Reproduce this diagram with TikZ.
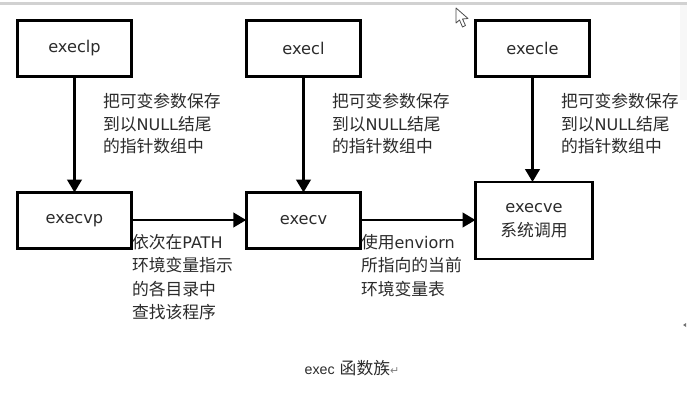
\documentclass[tikz,border=0pt]{standalone}
\usepackage{fontspec}
\setmainfont{DejaVu Sans}
\newfontfamily\cjkfont{Noto Sans CJK SC}
\newfontfamily\capfont{Liberation Sans}
\newcommand{\cj}[1]{{\fontsize{16.8}{22.6}\selectfont\cjkfont #1}}
\usetikzlibrary{arrows.meta}
\definecolor{ink}{HTML}{2B2B2B}
\tikzset{
  fnbox/.style={draw=black,line width=2.9pt,fill=white,minimum width=114.5pt,minimum height=56pt,inner sep=0pt,outer sep=0pt,text=ink,font=\fontsize{16.2}{20}\selectfont,align=center},
  flow/.style={draw=black,line width=2.8pt,-{Triangle[width=14.5pt,length=13pt]},shorten >=0pt},
  note/.style={anchor=north west,inner sep=0pt,outer sep=0pt,text=ink,align=left,font=\fontsize{16}{22.6}\selectfont},
}
\begin{document}
\begin{tikzpicture}[x=1pt,y=-1pt]
\useasboundingbox (0,0) rectangle (687,402);
\fill[white] (0,0) rectangle (687,402);
\fill[black!18] (0,2) rectangle (687,4.5);
\fill[black!3] (680,5) rectangle (687,100);

\node[fnbox] (execlp) at (74.5,48.5) {execlp};
\node[fnbox] (execl) at (303.5,48.5) {execl};
\node[fnbox] (execle) at (532.5,48.5) {execle};
\node[fnbox] (execvp) at (74.5,220.5) {execvp};
\node[fnbox] (execv) at (303.5,220.5) {execv};
\node[fnbox,minimum width=117pt,minimum height=77pt] (execve) at (534,220.5) {execve\\[3.5pt]\cj{系统调用}};

\draw[flow] (execlp.south) -- (execvp.north);
\draw[flow] (execl.south) -- (execv.north);
\draw[flow] (execle.south) -- (execle.south |- execve.north);
\draw[flow] (execvp.east |- 0,220) -- (execv.west |- 0,220);
\draw[flow] (execv.east |- 0,220) -- (execve.west |- 0,220);

\node[note] (n1) at (103,93.5) {\cj{把可变参数保存}\\\cj{到以}NULL\cj{结尾}\\\cj{的指针数组中}};
\node[note] (n2) at (332,93.5) {\cj{把可变参数保存}\\\cj{到以}NULL\cj{结尾}\\\cj{的指针数组中}};
\node[note] (n3) at (561,93.5) {\cj{把可变参数保存}\\\cj{到以}NULL\cj{结尾}\\\cj{的指针数组中}};
\node[note] (n4) at (132,234) {\cj{依次在}PATH\\[1pt]\cj{环境变量指示}\\[1pt]\cj{的各目录中}\\[1pt]\cj{查找该程序}};
\node[note] (n5) at (361,234) {\cj{使用}enviorn\\[1pt]\cj{所指向的当前}\\[1pt]\cj{环境变量表}};

\node[anchor=base west,inner sep=0pt,text=ink] (cap) at (304.5,374) {\fontsize{14.2}{16}\selectfont\capfont exec\hspace{5pt}\cj{函数族}\textcolor{black!50}{\fontsize{11}{12}\selectfont\rmfamily ↵}};

% mouse pointer
\draw[fill=white,draw=black!70,line width=.8pt,line join=round]
  (456,8) -- (456,23) -- (459.5,20) -- (462.5,27) -- (465.5,25.5) -- (462.5,19) -- (468,18.5) -- cycle;
% stray mark at the right edge
\fill[black!55] (683,325) -- (686,323) -- (686,327) -- cycle;
\end{tikzpicture}
\end{document}
